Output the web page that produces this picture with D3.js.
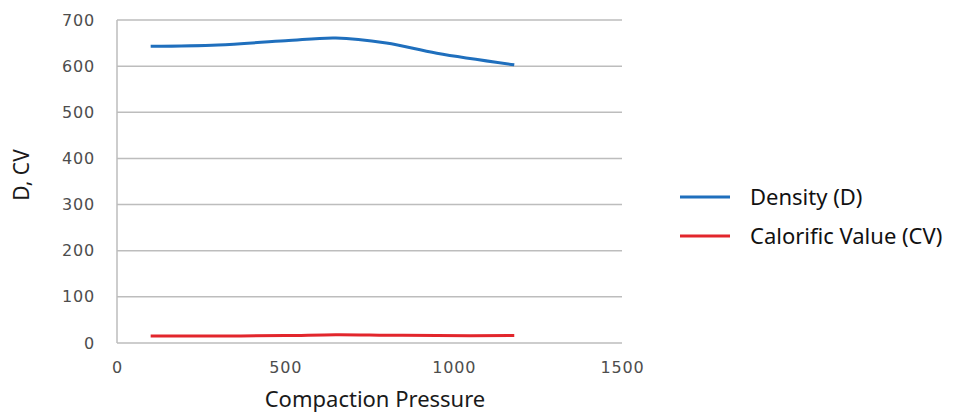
<!DOCTYPE html>
<html>
<head>
<meta charset="utf-8">
<script src="https://cdn.jsdelivr.net/npm/d3@7"></script>
<style>
  body { margin: 0; background: #fff; }
</style>
</head>
<body>
<div id="chart"></div>
<script>
// data
let pressure = [100, 300, 500, 650, 800, 950, 1180];
let density  = [643, 646, 655, 661, 650, 628, 603];
let calorific = [15, 15, 16, 18, 17, 16, 16];
let seriesNames = ['Density (D)', 'Calorific Value (CV)'];
let seriesColors = ['#1f6fbd', '#e2262c'];
let xTicks = [0, 500, 1000, 1500];
let yTicks = [0, 100, 200, 300, 400, 500, 600, 700];

let width = 959;
let height = 414;
let margin = { top: 20, bottom: 71, left: 117, right: 337 };

let svg = d3.select('#chart')
  .append('svg')
  .attr('width', width)
  .attr('height', height);

let xScale = d3.scaleLinear()
  .domain([0, 1500])
  .range([margin.left, width - margin.right]);

let yScale = d3.scaleLinear()
  .domain([0, 700])
  .range([height - margin.bottom, margin.top]);

// gridlines
svg.append('g')
  .selectAll('line')
  .data(yTicks)
  .enter()
  .append('line')
  .attr('x1', xScale(0))
  .attr('x2', xScale(1500))
  .attr('y1', d => yScale(d))
  .attr('y2', d => yScale(d))
  .attr('stroke', '#bdbdbd')
  .attr('stroke-width', 1.5);

// left axis line
svg.append('line')
  .attr('x1', xScale(0)).attr('x2', xScale(0))
  .attr('y1', yScale(0)).attr('y2', yScale(700))
  .attr('stroke', '#bdbdbd')
  .attr('stroke-width', 1.5);

// y tick labels
let yAxis = svg.append('g')
  .attr('transform', `translate(${xScale(0)},0)`)
  .call(d3.axisLeft(yScale).tickValues(yTicks).tickFormat(d3.format('d')).tickSize(0).tickPadding(22));
yAxis.select('.domain').remove();
yAxis.selectAll('text')
  .style('font-family', "'DejaVu Sans', Verdana, sans-serif")
  .style('font-size', '16px')
  .style('letter-spacing', '0.8px')
  .attr('fill', '#4d4d4d');

// x tick labels
let xAxis = svg.append('g')
  .attr('transform', `translate(0,${yScale(0)})`)
  .call(d3.axisBottom(xScale).tickValues(xTicks).tickFormat(d3.format('d')).tickSize(0).tickPadding(19));
xAxis.select('.domain').remove();
xAxis.selectAll('text')
  .style('font-family', "'DejaVu Sans', Verdana, sans-serif")
  .style('font-size', '16px')
  .style('letter-spacing', '0.8px')
  .attr('fill', '#4d4d4d');

// axis titles
svg.append('text')
  .attr('x', 375)
  .attr('y', 407)
  .attr('text-anchor', 'middle')
  .style('font-family', 'Noto Sans, Open Sans, sans-serif')
  .style('font-size', '22px')
  .attr('fill', '#1a1a1a')
  .text('Compaction Pressure');

svg.append('text')
  .attr('transform', `translate(29,175) rotate(-90)`)
  .attr('text-anchor', 'middle')
  .style('font-family', 'Noto Sans, Open Sans, sans-serif')
  .style('font-size', '21px')
  .attr('fill', '#1a1a1a')
  .text('D, CV');

// lines
let series = [density, calorific];
let line = d3.line()
  .x((d, i) => xScale(pressure[i]))
  .y(d => yScale(d))
  .curve(d3.curveCatmullRom.alpha(0.5));

svg.append('g')
  .selectAll('path')
  .data(series)
  .enter()
  .append('path')
  .attr('d', d => line(d))
  .attr('fill', 'none')
  .attr('stroke', (d, i) => seriesColors[i])
  .attr('stroke-width', 3);

// legend
let legend = svg.append('g')
  .selectAll('g')
  .data(seriesNames)
  .enter()
  .append('g')
  .attr('transform', (d, i) => `translate(680,${197 + i * 39})`);

legend.append('line')
  .attr('x1', 0).attr('x2', 50)
  .attr('stroke', (d, i) => seriesColors[i])
  .attr('stroke-width', 3);

legend.append('text')
  .attr('x', 70)
  .attr('dy', '0.35em')
  .style('font-family', 'Noto Sans, Open Sans, sans-serif')
  .style('font-size', '22px')
  .attr('fill', '#111')
  .text(d => d);
</script>
</body>
</html>
